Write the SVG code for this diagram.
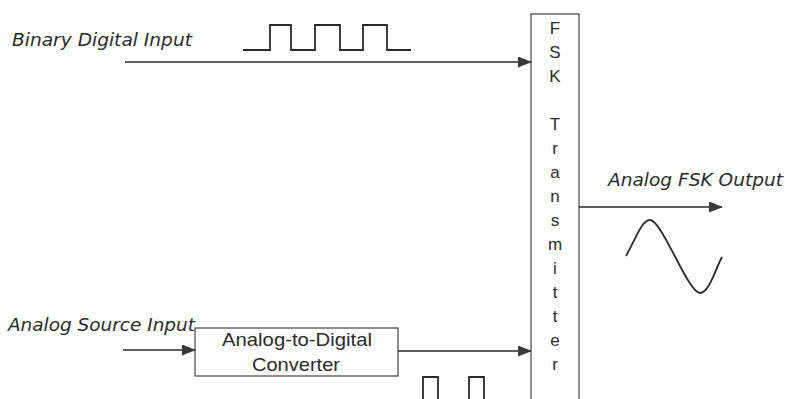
<svg xmlns="http://www.w3.org/2000/svg" width="785" height="399" viewBox="0 0 785 399">
  <style>
    .lbl { font-family: "DejaVu Sans", Verdana, sans-serif; font-style: italic; font-size: 17px; fill: #2a2a2a; }
    .box { fill: #ffffff; stroke: #444; stroke-width: 1.2; }
    .boxtxt { font-family: "Liberation Sans", Arial, sans-serif; font-size: 19px; fill: #2a2a2a; text-anchor: middle; }
    .vt { font-family: "Liberation Sans", Arial, sans-serif; font-size: 17px; fill: #2a2a2a; text-anchor: middle; }
    .wave { fill: none; stroke: #2a2a2a; stroke-width: 1.8; stroke-linejoin: miter; }
    .conn { fill: none; stroke: #2a2a2a; stroke-width: 1.6; }
  </style>
  <defs>
    <marker id="arrow" markerUnits="userSpaceOnUse" markerWidth="14" markerHeight="12" refX="13" refY="5.5" orient="auto">
      <path d="M0,0 L14,5.5 L0,11 Z" fill="#3a3a3a"/>
    </marker>
  </defs>
  <rect width="785" height="399" fill="#ffffff"/>

  <g id="binary-input">
    <text class="lbl" x="12" y="46" textLength="180" lengthAdjust="spacingAndGlyphs">Binary Digital Input</text>
    <path class="wave" d="M243,50 H270 V25 H291 V50 H315 V25 H340 V50 H363 V25 H387 V50 H411"/>
  </g>

  <g id="analog-input">
    <text class="lbl" x="8" y="331" textLength="187" lengthAdjust="spacingAndGlyphs">Analog Source Input</text>
  </g>

  <g id="adc">
    <rect class="box" x="195" y="328" width="203" height="48"/>
    <text class="boxtxt" x="297" y="346" textLength="150" lengthAdjust="spacingAndGlyphs">Analog-to-Digital</text>
    <text class="boxtxt" x="296" y="371" textLength="88" lengthAdjust="spacingAndGlyphs">Converter</text>
  </g>

  <g id="adc-output-wave">
    <path class="wave" d="M423,399 V377 H438 V399 M469,399 V377 H484 V399"/>
  </g>

  <g id="fsk-transmitter">
    <rect class="box" x="531" y="14" width="48" height="400"/>
    <text class="vt" x="555" y="34">F</text>
    <text class="vt" x="555" y="58">S</text>
    <text class="vt" x="555" y="82">K</text>
    <text class="vt" x="555" y="130">T</text>
    <text class="vt" x="555" y="154">r</text>
    <text class="vt" x="555" y="178">a</text>
    <text class="vt" x="555" y="202">n</text>
    <text class="vt" x="555" y="226">s</text>
    <text class="vt" x="555" y="250">m</text>
    <text class="vt" x="555" y="274">i</text>
    <text class="vt" x="555" y="298">t</text>
    <text class="vt" x="555" y="322">t</text>
    <text class="vt" x="555" y="346">e</text>
    <text class="vt" x="555" y="370">r</text>
  </g>

  <g id="fsk-output">
    <text class="lbl" x="608" y="186" textLength="175" lengthAdjust="spacingAndGlyphs">Analog FSK Output</text>
    <path class="wave" d="M626,256 C636,238 642,220 650,220 C662,220 688,293 700,293 C709,293 715,270 722,257"/>
  </g>

  <g id="connectors">
    <line class="conn" x1="125" y1="62" x2="531" y2="62" marker-end="url(#arrow)"/>
    <line class="conn" x1="123" y1="350" x2="195" y2="350" marker-end="url(#arrow)"/>
    <line class="conn" x1="398" y1="351" x2="531" y2="351" marker-end="url(#arrow)"/>
    <line class="conn" x1="579" y1="207" x2="722" y2="207" marker-end="url(#arrow)"/>
  </g>
</svg>
